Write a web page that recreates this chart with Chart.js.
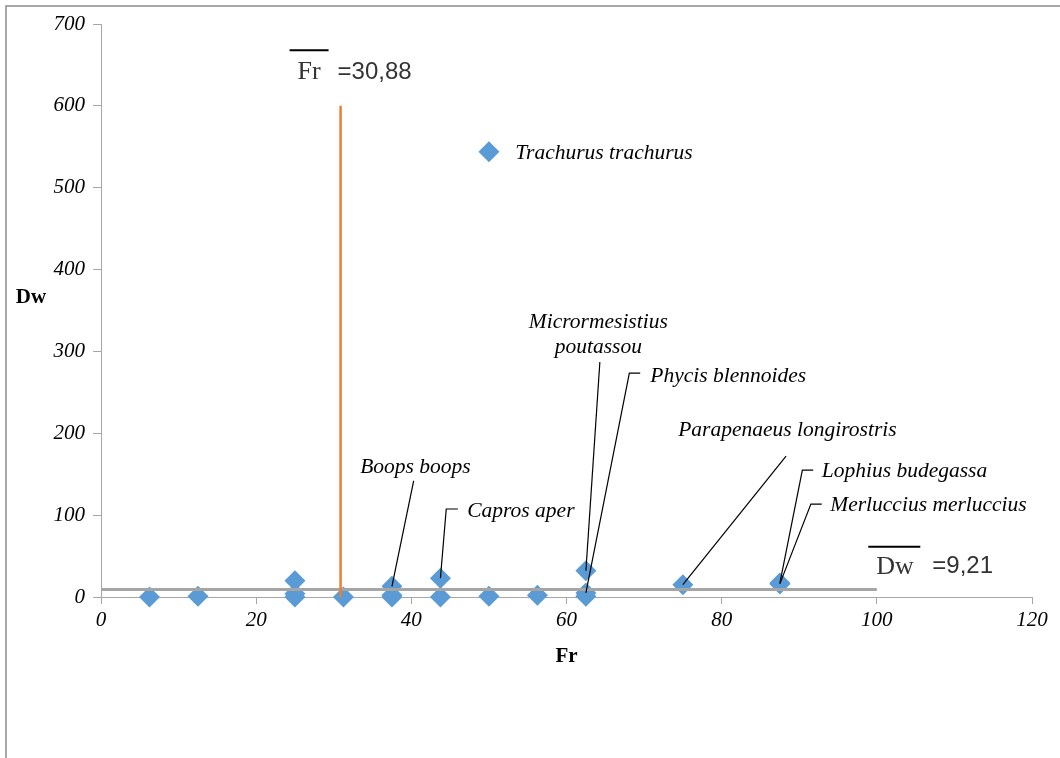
<!DOCTYPE html>
<html>
<head>
<meta charset="utf-8">
<script src="https://cdn.jsdelivr.net/npm/chart.js@4.4.1/dist/chart.umd.min.js"></script>
<style>
  html, body { margin: 0; padding: 0; background: #fff; }
</style>
</head>
<body>
<canvas id="chart" width="1060" height="758"></canvas>
<script>
// named species (labelled points)
const speciesNames = ['Trachurus trachurus', 'Boops boops', 'Capros aper', 'Micrormesistius poutassou',
  'Phycis blennoides', 'Parapenaeus longirostris', 'Lophius budegassa', 'Merluccius merluccius'];
const speciesFr = [50, 37.5, 43.75, 62.5, 62.5, 75, 87.5, 87.5];
const speciesDw = [544, 13, 23, 32, 5, 15, 17, 16];

// the other (unlabelled) species
const otherFr = [6.25, 12.5, 25, 25, 25, 31.25, 37.5, 37.5, 43.75, 50, 56.25, 62.5];
const otherDw = [0, 1, 20, 4, 0, 0, 2, 0, 0, 1, 2, 1];

const meanFr = 30.88;
const meanDw = 9.21;
const xTicks = [0, 20, 40, 60, 80, 100, 120];
const yTicks = [0, 100, 200, 300, 400, 500, 600, 700];

const blue = '#5B9BD5';
const grey = '#A5A5A5';
const axisGrey = '#A6A6A6';
const serifItalic = 'italic 21.5px "Liberation Serif"';

const points = [];
speciesFr.forEach((fr, i) => points.push({ x: fr, y: speciesDw[i] }));
otherFr.forEach((fr, i) => points.push({ x: fr, y: otherDw[i] }));

// where each label sits, in data units (text anchor + leader path)
const labelLayout = {
  'Trachurus trachurus':       { at: [53.4, 542], align: 'left', path: null },
  'Boops boops':               { at: [33.4, 159], align: 'left', path: [[40.3, 142]] },
  'Capros aper':               { at: [47.2, 105], align: 'left', path: [[46.0, 107.5], [44.5, 107.5]] },
  'Micrormesistius poutassou': { at: [64.1, 335], align: 'center', path: [[64.3, 287]] },
  'Phycis blennoides':         { at: [70.8, 270], align: 'left', path: [[69.5, 273.5], [68.1, 273.5]] },
  'Parapenaeus longirostris':  { at: [74.4, 204], align: 'left', path: [[88.3, 172]] },
  'Lophius budegassa':         { at: [92.9, 153], align: 'left', path: [[91.8, 155], [90.4, 155]] },
  'Merluccius merluccius':     { at: [94.0, 112], align: 'left', path: [[92.9, 113.5], [91.5, 113.5]] }
};

const extras = {
  id: 'extras',
  beforeDraw(chart) {
    const ctx = chart.ctx;
    ctx.save();
    ctx.strokeStyle = '#8C8C8C';
    ctx.lineWidth = 1.5;
    ctx.beginPath();
    ctx.moveTo(6, 758); ctx.lineTo(6, 6); ctx.lineTo(1060, 6);
    ctx.stroke();
    ctx.restore();
  },
  afterDatasetsDraw(chart) {
    const ctx = chart.ctx;
    const xs = chart.scales.x, ys = chart.scales.y;
    const px = v => xs.getPixelForValue(v);
    const py = v => ys.getPixelForValue(v);
    ctx.save();

    // leader lines + species labels
    ctx.fillStyle = '#000';
    ctx.font = serifItalic;
    ctx.textBaseline = 'middle';
    speciesNames.forEach((name, i) => {
      const lay = labelLayout[name];
      if (lay.path) {
        ctx.strokeStyle = '#000';
        ctx.lineWidth = 1.2;
        ctx.beginPath();
        ctx.moveTo(px(lay.path[0][0]), py(lay.path[0][1]));
        lay.path.slice(1).forEach(p => ctx.lineTo(px(p[0]), py(p[1])));
        ctx.lineTo(px(speciesFr[i]), py(speciesDw[i]));
        ctx.stroke();
      }
      ctx.textAlign = lay.align;
      if (name === 'Micrormesistius poutassou') {
        ctx.fillText('Micrormesistius', px(lay.at[0]), py(lay.at[1]));
        ctx.fillText('poutassou', px(lay.at[0]), py(lay.at[1]) + 25);
      } else {
        ctx.fillText(name, px(lay.at[0]), py(lay.at[1]));
      }
    });

    // mean labels
    ctx.textAlign = 'left';
    ctx.fillStyle = '#333';
    ctx.strokeStyle = '#000';
    ctx.lineWidth = 2;
    // Fr mean
    let x0 = px(meanFr) - 51, y0 = py(641);
    ctx.font = '26px "Liberation Serif"';
    ctx.fillText('Fr', x0 + 8, y0);
    ctx.beginPath(); ctx.moveTo(x0, y0 - 22); ctx.lineTo(x0 + 39, y0 - 22); ctx.stroke();
    ctx.font = '24px "Liberation Sans"';
    ctx.fillText('=30,88', x0 + 48, y0);
    // Dw mean
    x0 = px(98.9); y0 = py(37);
    ctx.font = '26px "Liberation Serif"';
    ctx.fillText('Dw', x0 + 8, y0);
    ctx.beginPath(); ctx.moveTo(x0, y0 - 20); ctx.lineTo(x0 + 52, y0 - 20); ctx.stroke();
    ctx.font = '24px "Liberation Sans"';
    ctx.fillText('=9,21', x0 + 64, y0);

    // axis titles
    ctx.fillStyle = '#000';
    ctx.font = 'bold 21px "Liberation Serif"';
    ctx.textAlign = 'center';
    ctx.fillText('Dw', 31, 298);
    ctx.fillText('Fr', (chart.chartArea.left + chart.chartArea.right) / 2, 657);
    ctx.restore();
  }
};

new Chart(document.getElementById('chart'), {
  type: 'scatter',
  data: {
    datasets: [
      {
        label: 'Fr mean',
        data: [{ x: meanFr, y: 0 }, { x: meanFr, y: 600 }],
        showLine: true, borderColor: '#ED7D31', borderWidth: 2.5, pointRadius: 0, order: 0
      },
      {
        label: 'Dw mean',
        data: [{ x: 0, y: meanDw }, { x: 100, y: meanDw }],
        showLine: true, borderColor: grey, borderWidth: 3, pointRadius: 0, order: 0
      },
      {
        label: 'Species',
        data: points,
        pointStyle: 'rectRot', pointRadius: 10.5, pointHoverRadius: 10.5,
        backgroundColor: blue, borderColor: blue, borderWidth: 0, order: 1,
        clip: false
      }
    ]
  },
  options: {
    responsive: false,
    animation: false,
    devicePixelRatio: 1,
    layout: { padding: { top: 24, right: 28, left: 0, bottom: 0 } },
    plugins: { legend: { display: false }, tooltip: { enabled: false } },
    scales: {
      x: {
        type: 'linear', min: 0, max: 120,
        afterBuildTicks: s => { s.ticks = xTicks.map(v => ({ value: v })); },
        afterFit: s => { s.height = 161; },
        grid: { drawOnChartArea: false, drawTicks: true, tickLength: 7, color: axisGrey },
        border: { color: axisGrey, width: 1 },
        ticks: { color: '#000', font: { family: 'Liberation Serif', size: 21, style: 'italic' }, padding: 4 }
      },
      y: {
        type: 'linear', min: 0, max: 700,
        afterBuildTicks: s => { s.ticks = yTicks.map(v => ({ value: v })); },
        afterFit: s => { s.width = 101; },
        grid: { drawOnChartArea: false, drawTicks: true, tickLength: 8, color: axisGrey },
        border: { color: axisGrey, width: 1 },
        ticks: { color: '#000', font: { family: 'Liberation Serif', size: 21, style: 'italic' }, padding: 8 }
      }
    }
  },
  plugins: [extras]
});
</script>
</body>
</html>
